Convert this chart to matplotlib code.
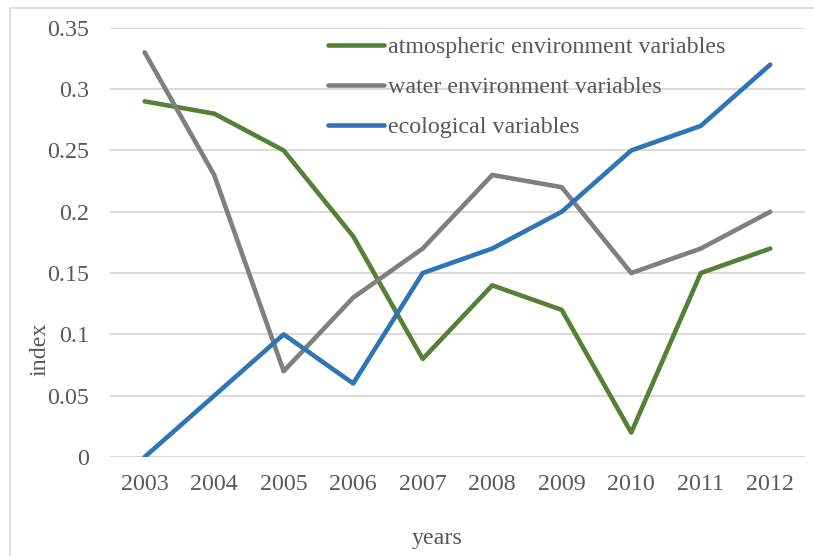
import matplotlib.pyplot as plt
from matplotlib.patches import Rectangle

years = ['2003', '2004', '2005', '2006', '2007', '2008', '2009', '2010', '2011', '2012']
atmospheric = [0.29, 0.28, 0.25, 0.18, 0.08, 0.14, 0.12, 0.02, 0.15, 0.17]
water = [0.33, 0.23, 0.07, 0.13, 0.17, 0.23, 0.22, 0.15, 0.17, 0.20]
ecological = [0.0, 0.05, 0.10, 0.06, 0.15, 0.17, 0.20, 0.25, 0.27, 0.32]

plt.rcParams['font.family'] = ['Liberation Serif', 'DejaVu Serif']
txt = '#595959'
fs = 17.3

fig = plt.figure(figsize=(8.14, 5.56), dpi=100)
ax = fig.add_axes([0.135, 0.178, 0.854, 0.772])

# chart border like the Excel frame
fig.patches.append(Rectangle((10 / 814, -0.1), 1.2, 1 - 8 / 556 + 0.1,
                             transform=fig.transFigure, fill=False,
                             edgecolor='#d9d9d9', linewidth=1.2))

x = range(len(years))
ax.plot(x, atmospheric, color='#548235', linewidth=3.3, solid_capstyle='round',
        label='atmospheric environment variables')
ax.plot(x, water, color='#7f7f7f', linewidth=3.3, solid_capstyle='round',
        label='water environment variables')
ax.plot(x, ecological, color='#2e75b6', linewidth=3.3, solid_capstyle='round',
        label='ecological variables')

ax.set_xlim(-0.5, len(years) - 0.5)
ax.set_ylim(0, 0.35)
ax.set_xticks(list(x))
ax.set_xticklabels(years)
ax.set_yticks([0, 0.05, 0.1, 0.15, 0.2, 0.25, 0.3, 0.35])
ax.set_yticklabels(['0', '0.05', '0.1', '0.15', '0.2', '0.25', '0.3', '0.35'])
ax.tick_params(length=0, labelsize=fs, labelcolor=txt)
ax.tick_params(axis='y', pad=15)
ax.tick_params(axis='x', pad=12)

ax.grid(axis='y', color='#d9d9d9', linewidth=1.4)
ax.set_axisbelow(True)
for s in ax.spines.values():
    s.set_visible(False)

ax.set_xlabel('years', fontsize=fs, color=txt)
ax.xaxis.set_label_coords(0.47, -0.165)
ax.set_ylabel('index', fontsize=fs, color=txt)
ax.yaxis.set_label_coords(-0.085, 0.25)

leg = ax.legend(loc='upper left', bbox_to_anchor=(0.283, 1.03), frameon=False,
                fontsize=fs, handlelength=2.3, handletextpad=0.2, labelspacing=0.75)
for t in leg.get_texts():
    t.set_color(txt)

fig.savefig('out.png', dpi=100)
